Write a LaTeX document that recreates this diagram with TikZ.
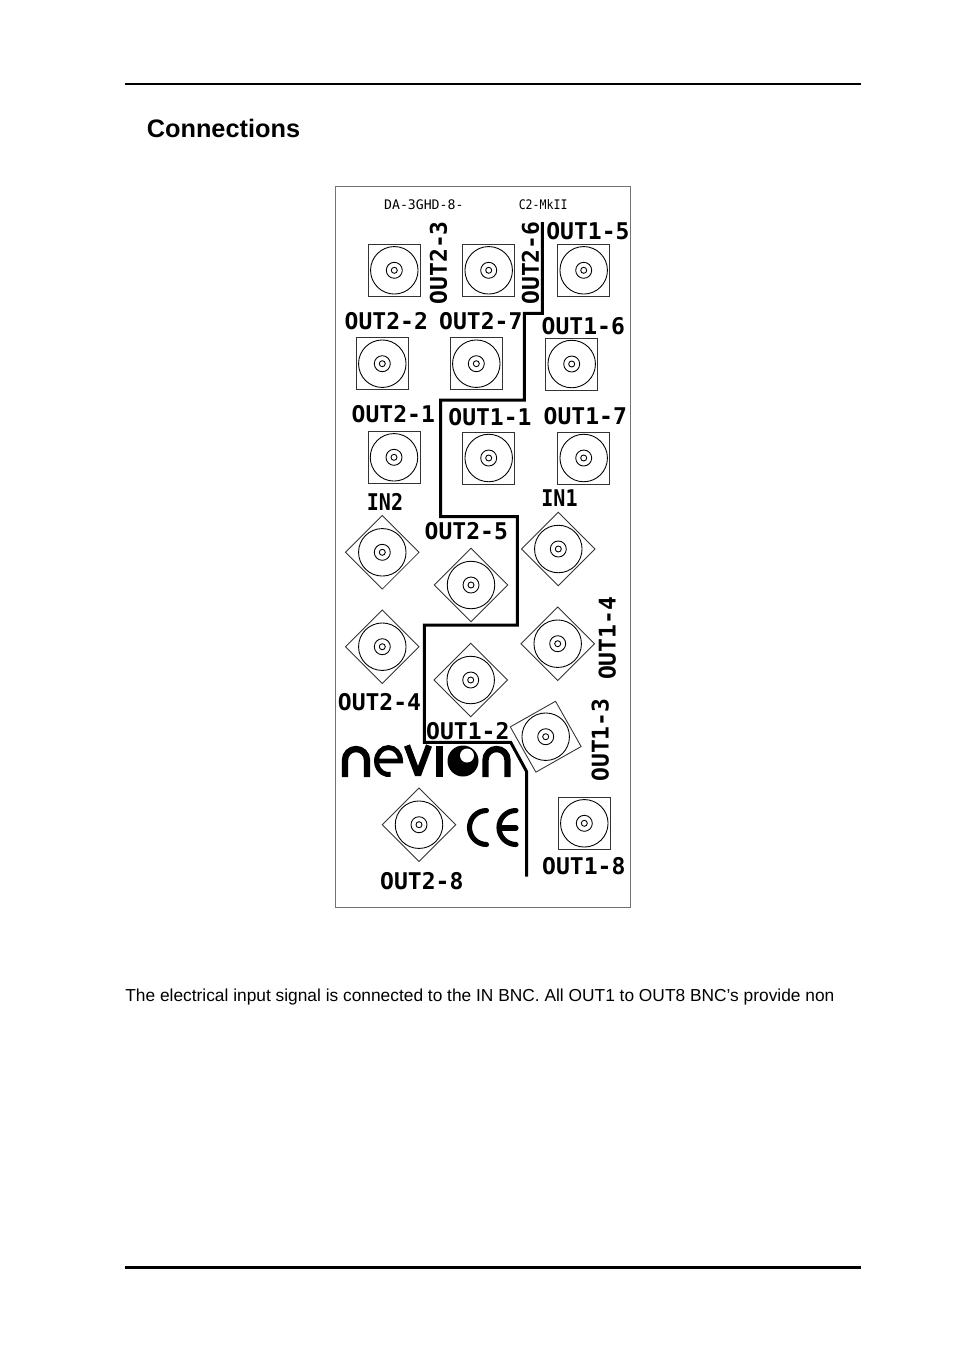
\documentclass[tikz,border=0pt]{standalone}
\usepackage{fontspec}
\setmainfont{Liberation Sans}
\newfontfamily\panelfont{DejaVu Sans Mono}
\usepackage{tikz}
\tikzset{bnc body/.style = {rectangle,draw=black!80,line width=0.5pt,minimum size=1.04cm,inner sep=0pt}}
\tikzset{bnc ring/.style = {circle,draw,line width=0.5pt,inner sep=0pt}}
\tikzset{port label/.style = {inner sep=0pt,font=\panelfont\bfseries\fontsize{13.1pt}{14pt}\selectfont}}
\tikzset{type label/.style = {inner sep=0pt,font=\panelfont\fontsize{7.5pt}{8pt}\selectfont}}
\tikzset{logo stroke/.style = {line width=3.6pt}}

\begin{document}
\begin{tikzpicture}[x=0.02cm,y=-0.02cm]
            \useasboundingbox (0,0) rectangle (954,1350);

            % page rules and text
            \fill (125,83) rectangle (860.5,85.2);
            \fill (125,1265.8) rectangle (860.5,1268.6);
            \node[anchor=base west,inner sep=0pt,font=\bfseries\fontsize{14.4pt}{16pt}\selectfont] (title) at (146.5,137) {Connections};
            \node[anchor=base west,inner sep=0pt,font=\fontsize{9.87pt}{12pt}\selectfont] (bodytext) at (125,1001) {The electrical input signal is connected to the IN BNC. All OUT1 to OUT8 BNC’s provide non};

            % panel outline
            \draw[black!55,line width=0.6pt] (335.5,186.5) rectangle (630.5,907.5);

            % connectors
            \foreach \nm/\px/\py/\ang in {
                b23/394.3/270.3/0,b26/488.7/270.3/0,b15/583.7/270.3/0,
                b22/382.3/363.7/0,b27/476.3/363.7/0,b16/571.7/364/0,
                b21/394/457.3/0,b11/488.7/458/0,b17/583.7/458/0,
                b18/584.3/823.3/0,
                in2/382.3/552.3/45,b25/471/585/45,in1/558.3/549/45,
                b24/382.3/646.7/45,b14/557.7/643.7/45,b12/470.7/680/45,
                b28/419/824.7/45,b13/545.7/736.7/29.5}
            {
                \node[bnc body,rotate=\ang] (\nm) at (\px,\py) {};
                \node[bnc ring,minimum size=0.95cm] (\nm outer) at (\nm) {};
                \node[bnc ring,minimum size=0.32cm] (\nm mid) at (\nm) {};
                \node[bnc ring,minimum size=0.12cm] (\nm inner) at (\nm) {};
            }

            % labels
            \foreach \nm/\txt/\px/\py/\ang in {
                l23/OUT2-3/438.5/262.8/90,l26/OUT2-6/530.5/263/90,l15/OUT1-5/587.9/231/0,
                l22/OUT2-2/386.3/320.7/0,l27/OUT2-7/480.8/320.7/0,l16/OUT1-6/583.3/326.2/0,
                l21/OUT2-1/393.3/414.5/0,l11/OUT1-1/490/417.2/0,l17/OUT1-7/585.3/416.2/0,
                l25/OUT2-5/466.3/531.5/0,
                l14/OUT1-4/607.2/638.3/90,l24/OUT2-4/379.5/702.5/0,l12/OUT1-2/467.8/731.2/0,
                l13/OUT1-3/600.3/740/90,l18/OUT1-8/583.8/866.2/0,l28/OUT2-8/421.8/881.2/0}
            {
                \node[port label,rotate=\ang] (\nm) at (\px,\py) {\txt};
            }
            \node[port label,xscale=0.87] (lin2) at (385,501.8) {IN2};
            \node[port label,xscale=0.87] (lin1) at (559.5,498) {IN1};
            \node[type label] (typea) at (423.8,205) {DA-3GHD-8-};
            \node[type label,xscale=0.88] (typeb) at (543.2,205) {C2-MkII};

            % dividing line
            \draw[line width=1.7pt,miter limit=2] (542.3,222) -- (542.3,313.3) -- (524.3,313.3) -- (524.3,400)
                -- (440.7,400) -- (440.7,516.7) -- (517.3,516.7) -- (517.3,625) -- (424.3,625)
                -- (424.3,742.3) -- (510.7,742.3) -- (526.7,771.7) -- (526.7,876.7);

            % logo
            \draw[logo stroke] (345,777) -- (345,760) arc[start angle=180,end angle=0,x radius=11,y radius=-11] -- (367,777);
            \draw[line width=2.8pt] (377,761) -- (400.5,761) arc[start angle=0,end angle=280,x radius=12,y radius=-13.5];
            \draw[logo stroke,line join=bevel] (407,745.5) -- (418,775) -- (429,745.5);
            \fill (436,746) rectangle (443,777);
            \fill (463,761) circle[radius=15.5];
            \fill[white] (467,755.5) circle[radius=7];
            \draw[logo stroke] (485.5,777) -- (485.5,760) arc[start angle=180,end angle=0,x radius=11,y radius=-11] -- (507.5,777);

            % CE mark
            \draw[line width=2.9pt,line cap=round] (486.5,810.5) arc[start angle=90,end angle=270,x radius=17,y radius=-17];
            \draw[line width=2.9pt,line cap=round] (516,810.5) arc[start angle=90,end angle=270,x radius=17,y radius=-17];
            \draw[line width=2.9pt,line cap=round] (501,828) -- (516,828);
        \end{tikzpicture}
\end{document}
